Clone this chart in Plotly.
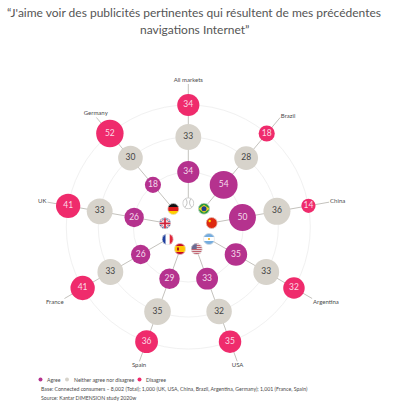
import base64
import plotly.graph_objects as go

markets = ["All markets", "Brazil", "China", "Argentina", "USA", "Spain", "France", "UK", "Germany"]
agree = [34, 54, 50, 35, 33, 29, 26, 26, 18]
neither = [33, 28, 36, 33, 32, 35, 33, 33, 30]
disagree = [34, 18, 14, 32, 35, 36, 41, 41, 52]
series_names = ["Agree", "Neither agree nor disagree", "Disagree"]
title_lines = ["\u201cJ'aime voir des publicités pertinentes qui résultent de mes précédentes",
               "navigations Internet\u201d"]
base_note = "Base: Connected consumers – 8,002 (Total); 1,000 (UK, USA, China, Brazil, Argentina, Germany); 1,001 (France, Spain)"
source_note = "Source: Kantar DIMENSION study 2020w"

FONT = "Lato"
W, H = 400, 403
CX, CY, R = 188.3, 227.0, 170.0
R_FLAG, R_AGREE, R_NEITHER, R_DISAGREE, R_END, R_LABEL = 24, 55, 90, 122, 143, 144
C_AGREE, C_NEITHER, C_DISAGREE = "#B5328E", "#D7D3CB", "#EF2B6C"
TXT = "#4a4a4a"

fig = go.Figure()

# spokes
for m in markets:
    fig.add_trace(go.Scatterpolar(r=[R_FLAG, R_END], theta=[m, m], mode="lines",
                                  line=dict(color="#c4c2bd", width=1), showlegend=False, hoverinfo="skip"))

def ring(vals, level, color, ref, tcolor, name):
    fig.add_trace(go.Scatterpolar(
        r=[level] * len(markets), theta=markets, mode="markers+text", name=name,
        text=[str(v) for v in vals], textposition="middle center",
        textfont=dict(family=FONT, size=8.5, color=tcolor),
        marker=dict(size=vals, sizemode="area", sizeref=ref, color=color, opacity=1, line=dict(width=0)),
        showlegend=False, cliponaxis=False))

ring(agree, R_AGREE, C_AGREE, 0.1385, "#f6dcec", series_names[0])
ring(neither, R_NEITHER, C_NEITHER, 0.0988, "#444444", series_names[1])
ring(disagree, R_DISAGREE, C_DISAGREE, 0.1385, "#fbdbe6", series_names[2])

# market labels
positions = ["top center", "middle right", "middle right", "bottom right", "bottom center",
             "bottom center", "bottom left", "middle left", "top center"]
fig.add_trace(go.Scatterpolar(r=[R_LABEL] * len(markets), theta=markets, mode="text", text=markets,
                              textposition=positions, textfont=dict(family=FONT, size=6, color=TXT),
                              showlegend=False, cliponaxis=False))

def flag(body, edge="#e4e4e4"):
    svg = ('<svg xmlns="http://www.w3.org/2000/svg" width="48" height="48" viewBox="0 0 24 24">'
           '<defs><clipPath id="c"><circle cx="12" cy="12" r="11.5"/></clipPath></defs>'
           '<g clip-path="url(#c)">' + body + '</g>'
           f'<circle cx="12" cy="12" r="11" fill="none" stroke="{edge}" stroke-width="1.4"/></svg>')
    return "data:image/svg+xml;base64," + base64.b64encode(svg.encode()).decode()

def rect(y, h, c):
    return f'<rect x="0" y="{y}" width="24" height="{h}" fill="{c}"/>'

flags = {
    "All markets": '<rect width="24" height="24" fill="#fff"/>'
                   '<path d="M7 3 Q13 12 5 20 M17 3 Q11 12 19 20" stroke="#aaa" stroke-width="1.4" fill="none"/>',
    "Brazil": rect(0, 24, "#2a9a3c") + '<path d="M12 4 L23 12 L12 20 L1 12Z" fill="#f6d21e"/>'
              '<circle cx="12" cy="12" r="5" fill="#1f3f8f"/>',
    "China": rect(0, 24, "#de2910") + '<circle cx="8" cy="8" r="2.4" fill="#ffde00"/>',
    "Argentina": rect(0, 8, "#74acdf") + rect(8, 8, "#fff") + rect(16, 8, "#74acdf") +
                 '<circle cx="12" cy="12" r="2" fill="#f6b40e"/>',
    "USA": rect(0, 24, "#e8d5d8") + "".join(rect(i, 2, "#c0606e") for i in range(0, 24, 4)) +
           '<rect width="12" height="12" fill="#6a6a92"/>',
    "Spain": rect(0, 6, "#c60b1e") + rect(6, 12, "#ffc400") + rect(18, 6, "#c60b1e") +
             '<rect x="6" y="9" width="4" height="6" fill="#ad1519"/>',
    "France": '<rect width="8" height="24" fill="#1f3f9f"/><rect x="8" width="8" height="24" fill="#fff"/>'
              '<rect x="16" width="8" height="24" fill="#e1253a"/>',
    "UK": rect(0, 24, "#1f3a82") +
          '<path d="M0 0 L24 24 M24 0 L0 24" stroke="#fff" stroke-width="4"/>'
          '<path d="M0 0 L24 24 M24 0 L0 24" stroke="#d0213a" stroke-width="1.5"/>'
          '<path d="M12 0 V24 M0 12 H24" stroke="#fff" stroke-width="6"/>'
          '<path d="M12 0 V24 M0 12 H24" stroke="#d0213a" stroke-width="3.5"/>',
    "Germany": rect(0, 8, "#111") + rect(8, 8, "#dd1c1c") + rect(16, 8, "#ffce00"),
}
FLAG_POS = [(188.3, 203.3), (204, 208.7), (211.7, 223), (209, 239), (196.7, 249),
            (180, 249), (167.7, 239.3), (165, 223.3), (173.3, 209)]
images = []
for m, (px, py) in zip(markets, FLAG_POS):
    edge = "#b5b5b5" if m == "All markets" else "#e4e4e4"
    images.append(dict(source=flag(flags[m], edge), xref="paper", yref="paper", x=px / W, y=1 - py / H,
                       sizex=12 / W, sizey=12 / H, xanchor="center", yanchor="middle", layer="above"))

ann = []
def label(x, y, text, size, color=TXT, anchor="left"):
    ann.append(dict(x=x / W, y=1 - y / H, xref="paper", yref="paper", text=text, showarrow=False,
                    xanchor=anchor, yanchor="middle", font=dict(family=FONT, size=size, color=color)))

label(194, 12.5, title_lines[0], 12, "#555555", "center")
label(194, 29, title_lines[1], 12, "#555555", "center")
label(45, 379.5, series_names[0], 5.2)
label(72, 379.5, series_names[1], 5.2)
label(144, 379.5, series_names[2], 5.2)
label(38.5, 388.5, base_note, 5.2)
label(38.5, 398, source_note, 5.2)

shapes = []
for x, c in [(40.5, C_AGREE), (67, C_NEITHER), (139.5, C_DISAGREE)]:
    shapes.append(dict(type="circle", xref="paper", yref="paper", x0=(x - 2) / W, x1=(x + 2) / W,
                       y0=1 - 381.5 / H, y1=1 - 377.5 / H, fillcolor=c, line=dict(width=0)))

fig.update_layout(
    width=W, height=H, margin=dict(l=0, r=0, t=0, b=0), paper_bgcolor="white", plot_bgcolor="white",
    showlegend=False, images=images, annotations=ann, shapes=shapes,
    polar=dict(
        domain=dict(x=[(CX - R) / W, (CX + R) / W], y=[1 - (CY + R) / H, 1 - (CY - R) / H]),
        bgcolor="rgba(0,0,0,0)",
        radialaxis=dict(range=[0, R], tickvals=[R_AGREE, R_NEITHER, R_DISAGREE], showticklabels=False,
                        ticks="", showline=False, gridcolor="#f1f1f1", gridwidth=1),
        angularaxis=dict(type="category", categoryorder="array", categoryarray=markets, rotation=90,
                         direction="clockwise", showgrid=False, showline=False, ticks="", showticklabels=False),
    ),
)
fig.write_html("out.html", config=dict(displayModeBar=False),
               post_script="document.body.style.margin='0';document.documentElement.style.overflow='hidden';")
